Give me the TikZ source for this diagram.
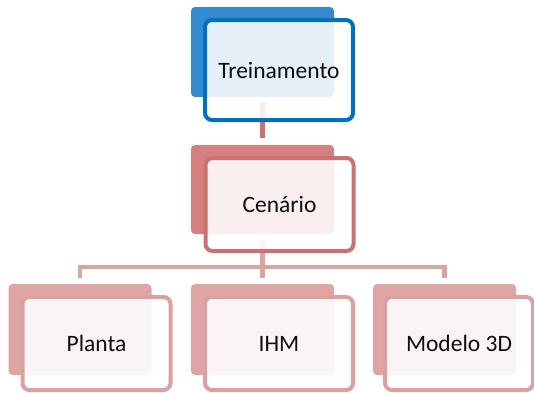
\documentclass[tikz,border=0pt]{standalone}
\usepackage{fontspec}
\setmainfont{Carlito}
\definecolor{blueback}{RGB}{52,138,204}
\definecolor{blueline}{RGB}{0,112,192}
\definecolor{redback}{RGB}{213,128,128}
\definecolor{redline}{RGB}{205,112,112}
\definecolor{pinkback}{RGB}{223,165,165}
\definecolor{pinkline}{RGB}{221,160,160}
\definecolor{pinkconn}{RGB}{220,163,163}
\begin{document}
\begin{tikzpicture}[x=1pt,y=-1pt,
  backbox/.style={rectangle,rounded corners=4pt,inner sep=0pt,minimum width=143pt},
  frontbox/.style={rectangle,rounded corners=7pt,inner sep=0pt,line width=4pt,
     fill=white,fill opacity=0.88,text opacity=1,minimum width=148pt,
     font=\fontsize{23.5}{28}\selectfont,text=black!95},
  conn/.style={line width=4.5pt,line join=miter}]
\useasboundingbox (0,0) rectangle (534,392);
% back boxes
\node[backbox,fill=blueback,minimum height=90pt] (tb) at (262.5,52) {};
\node[backbox,fill=redback,minimum height=89pt] (cb) at (262.5,189.5) {};
\node[backbox,fill=pinkback,minimum height=91pt] (pb) at (80,329.5) {};
\node[backbox,fill=pinkback,minimum height=91pt] (ib) at (262.5,329.5) {};
\node[backbox,fill=pinkback,minimum height=91pt] (mb) at (444.5,329.5) {};
% connectors
\coordinate (hm) at (262.5,267);
\draw[conn,redline] ([yshift=-5pt]tb.south) -- ([yshift=7pt]cb.north);
\draw[conn,pinkconn] ([yshift=-6pt]cb.south) -- ([yshift=6pt]ib.north);
\draw[conn,pinkconn] ([yshift=6pt]pb.north) |- (hm) -| ([yshift=6pt]mb.north);
% front boxes
\node[frontbox,draw=blueline,minimum height=100pt] (t) at (279,70) {Treinamento};
\node[frontbox,draw=redline,minimum height=93pt] (c) at (279.5,204.5) {Cenário};
\node[frontbox,draw=pinkline,minimum height=93pt] (p) at (96.5,343.5) {Planta};
\node[frontbox,draw=pinkline,minimum height=93pt] (i) at (279,343.5) {IHM};
\node[frontbox,draw=pinkline,minimum height=93pt] (m) at (459,343.5) {Modelo 3D};
\end{tikzpicture}
\end{document}
